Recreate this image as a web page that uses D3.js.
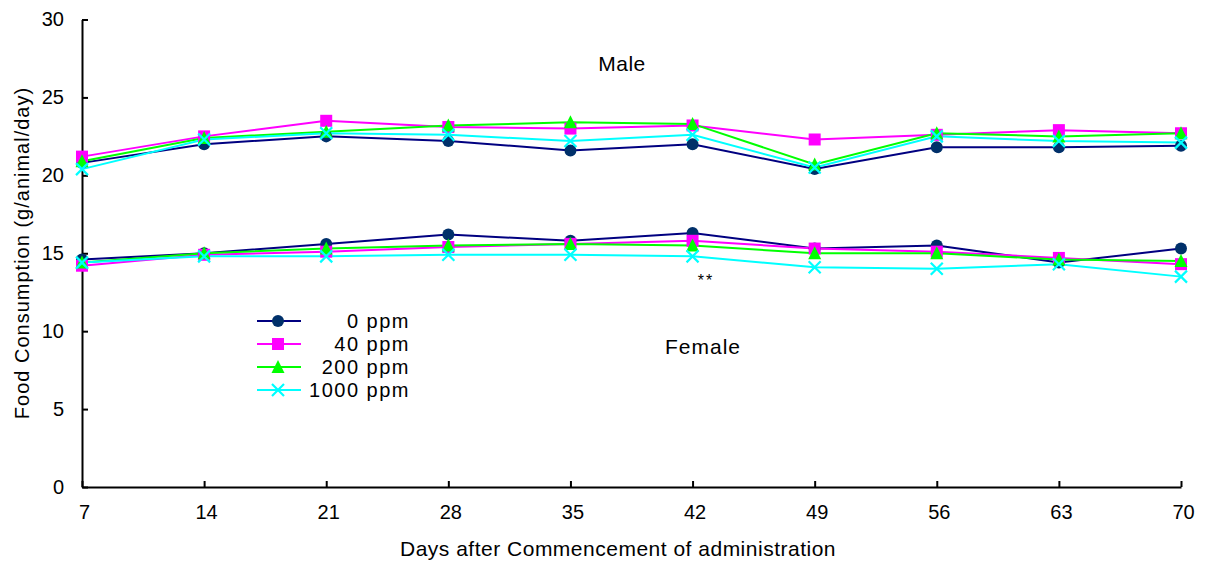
<!DOCTYPE html>
<html>
<head>
<meta charset="utf-8">
<script src="https://cdn.jsdelivr.net/npm/d3@7"></script>
<style>
  body { margin: 0; background: #fff; }
  svg { font-family: "Liberation Sans", Arial, sans-serif; }
</style>
</head>
<body>
<svg id="chart" width="1207" height="561"></svg>
<script>
const DAYS = [7, 14, 21, 28, 35, 42, 49, 56, 63, 70];
const Y_TICKS = [0, 5, 10, 15, 20, 25, 30];

const GROUPS = ['0 ppm', '40 ppm', '200 ppm', '1000 ppm'];

// male
const M_0 = [20.8, 22.0, 22.5, 22.2, 21.6, 22.0, 20.4, 21.8, 21.8, 21.9];
const M_40 = [21.2, 22.5, 23.5, 23.1, 23.0, 23.2, 22.3, 22.6, 22.9, 22.7];
const M_200 = [20.9, 22.4, 22.8, 23.2, 23.4, 23.3, 20.7, 22.7, 22.5, 22.7];
const M_1000 = [20.4, 22.3, 22.7, 22.6, 22.2, 22.6, 20.5, 22.5, 22.2, 22.1];

// female
const F_0 = [14.6, 15.0, 15.6, 16.2, 15.8, 16.3, 15.3, 15.5, 14.4, 15.3];
const F_40 = [14.2, 14.9, 15.1, 15.4, 15.6, 15.8, 15.3, 15.1, 14.7, 14.3];
const F_200 = [14.4, 15.0, 15.3, 15.5, 15.6, 15.5, 15.0, 15.0, 14.6, 14.5];
const F_1000 = [14.4, 14.8, 14.8, 14.9, 14.9, 14.8, 14.1, 14.0, 14.3, 13.5];

const LINE_COLORS = ['#000080', '#ff00ff', '#00ff00', '#00ffff'];
const MARK_COLORS = ['#00306a', '#ff00ff', '#00ff00', '#00ffff'];
const SHAPES = ['circle', 'square', 'triangle', 'cross'];

const svg = d3.select('#chart');
const x = d3.scaleLinear().domain([7, 70]).range([82, 1181]);
const y = d3.scaleLinear().domain([0, 30]).range([487, 19.5]);

// axes
const xAxis = svg.append('g').attr('transform', `translate(0,${y(0)})`)
  .call(d3.axisBottom(x).tickValues(DAYS).tickSizeInner(-6).tickSizeOuter(0).tickPadding(18));
const yAxis = svg.append('g').attr('transform', `translate(${x(7)},0)`)
  .call(d3.axisLeft(y).tickValues(Y_TICKS).tickSizeInner(-6).tickSizeOuter(0).tickPadding(18));
[xAxis, yAxis].forEach(a => {
  a.select('.domain').attr('stroke', '#000').attr('stroke-width', 2);
  a.selectAll('.tick line').attr('stroke', '#000').attr('stroke-width', 2);
  a.selectAll('.tick text').attr('font-size', 20).attr('fill', '#000')
    .attr('font-family', '"Liberation Sans", Arial, sans-serif');
});
xAxis.selectAll('.tick text').attr('dx', 2);

svg.append('text').attr('x', 618).attr('y', 556).attr('text-anchor', 'middle')
  .attr('font-size', 21).attr('letter-spacing', 0.5).text('Days after Commencement of administration');
svg.append('text').attr('transform', 'translate(29,253) rotate(-90)').attr('text-anchor', 'middle')
  .attr('font-size', 20).attr('letter-spacing', 1).text('Food Consumption (g/animal/day)');

svg.append('text').attr('x', 622).attr('y', 71).attr('text-anchor', 'middle')
  .attr('font-size', 21).attr('letter-spacing', 0.5).text('Male');
svg.append('text').attr('x', 703).attr('y', 354).attr('text-anchor', 'middle')
  .attr('font-size', 21).attr('letter-spacing', 1).text('Female');
svg.append('text').attr('x', 706).attr('y', 286).attr('text-anchor', 'middle')
  .attr('font-size', 16).attr('letter-spacing', 2).text('**');

function marker(g, shape, cx, cy, color) {
  if (shape === 'circle') {
    g.append('circle').attr('cx', cx).attr('cy', cy).attr('r', 6).attr('fill', color);
  } else if (shape === 'square') {
    g.append('rect').attr('x', cx - 6).attr('y', cy - 6).attr('width', 12).attr('height', 12).attr('fill', color);
  } else if (shape === 'triangle') {
    g.append('path').attr('d', `M${cx},${cy - 7}L${cx + 6.5},${cy + 6}L${cx - 6.5},${cy + 6}Z`).attr('fill', color);
  } else {
    g.append('path').attr('d', `M${cx - 6},${cy - 6}L${cx + 6},${cy + 6}M${cx + 6},${cy - 6}L${cx - 6},${cy + 6}`)
      .attr('stroke', color).attr('stroke-width', 2.2).attr('fill', 'none');
  }
}

const line = d3.line().x((d, i) => x(DAYS[i])).y(d => y(d));
const sets = [[M_0, M_40, M_200, M_1000], [F_0, F_40, F_200, F_1000]];

sets.forEach(sex => {
  sex.forEach((vals, k) => {
    svg.append('path').attr('d', line(vals)).attr('fill', 'none')
      .attr('stroke', LINE_COLORS[k]).attr('stroke-width', 2);
  });
  sex.forEach((vals, k) => {
    const g = svg.append('g');
    vals.forEach((v, i) => marker(g, SHAPES[k], x(DAYS[i]), y(v), MARK_COLORS[k]));
  });
});

// legend
GROUPS.forEach((name, k) => {
  const ly = 321 + k * 23;
  svg.append('line').attr('x1', 257).attr('x2', 301).attr('y1', ly).attr('y2', ly)
    .attr('stroke', LINE_COLORS[k]).attr('stroke-width', 2);
  marker(svg, SHAPES[k], 278, ly, MARK_COLORS[k]);
  svg.append('text').attr('x', 410).attr('y', ly + 7).attr('text-anchor', 'end')
    .attr('font-size', 20).attr('letter-spacing', 1.5).text(name);
});
</script>
</body>
</html>
